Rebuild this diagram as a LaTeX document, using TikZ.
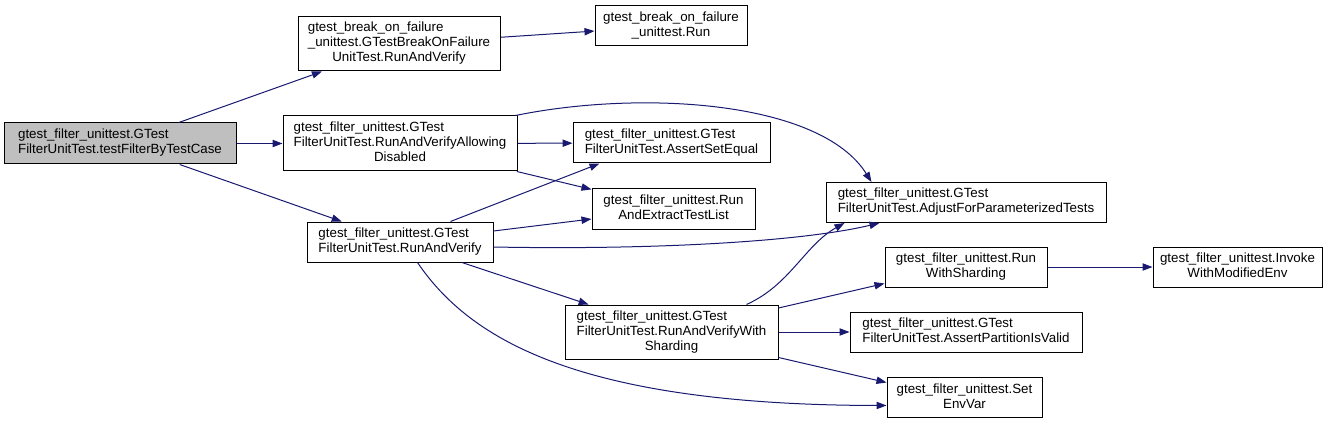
\documentclass[tikz,border=0pt]{standalone}
\usepackage{fontspec}
\setmainfont{Liberation Sans}
\usetikzlibrary{arrows.meta,calc}
\definecolor{edgeblue}{HTML}{191970}
\definecolor{rootgray}{HTML}{BFBFBF}
\newcommand\lbl[2]{\begin{tabular}{@{}l@{}}#1\\\multicolumn{1}{@{}c@{}}{#2}\end{tabular}}
\tikzset{
  nodebox/.style 2 args={draw=black,line width=0.75pt,inner sep=0pt,
    minimum width=#1*0.75pt,minimum height=#2*0.75pt},
  link/.style={draw=edgeblue,line width=0.75pt,-{Triangle[length=7.5pt,width=5.5pt]}}
}
\begin{document}
\begin{tikzpicture}[x=0.75pt,y=-0.75pt,font=\fontsize{10}{11.25}\selectfont]
\useasboundingbox (0,0) rectangle (1335,424);
\node[nodebox={232}{41},fill=rootgray] (A) at (120,143.5) {\lbl{gtest\_filter\_unittest.GTest}{FilterUnitTest.testFilterByTestCase}};
\node[nodebox={202}{54}] (B) at (399,44) {\lbl{gtest\_break\_on\_failure\\\_unittest.GTestBreakOnFailure}{UnitTest.RunAndVerify}};
\node[nodebox={152}{40}] (C) at (671,26) {\lbl{gtest\_break\_on\_failure}{\_unittest.Run}};
\node[nodebox={234}{55}] (D) at (400,143.5) {\lbl{gtest\_filter\_unittest.GTest\\FilterUnitTest.RunAndVerifyAllowing}{Disabled}};
\node[nodebox={186}{40}] (E) at (400,242) {\lbl{gtest\_filter\_unittest.GTest}{FilterUnitTest.RunAndVerify}};
\node[nodebox={197}{40}] (F) at (671.5,143) {\lbl{gtest\_filter\_unittest.GTest}{FilterUnitTest.AssertSetEqual}};
\node[nodebox={163}{40}] (G) at (673.5,209) {\lbl{gtest\_filter\_unittest.Run}{AndExtractTestList}};
\node[nodebox={280}{40}] (H) at (966,202.5) {\lbl{gtest\_filter\_unittest.GTest}{FilterUnitTest.AdjustForParameterizedTests}};
\node[nodebox={213}{54}] (I) at (671.5,332) {\lbl{gtest\_filter\_unittest.GTest\\FilterUnitTest.RunAndVerifyWith}{Sharding}};
\node[nodebox={232}{40}] (J) at (966,332) {\lbl{gtest\_filter\_unittest.GTest}{FilterUnitTest.AssertPartitionIsValid}};
\node[nodebox={155}{40}] (K) at (964.5,397.5) {\lbl{gtest\_filter\_unittest.Set}{EnvVar}};
\node[nodebox={162}{40}] (L) at (966,267) {\lbl{gtest\_filter\_unittest.Run}{WithSharding}};
\node[nodebox={169}{40}] (M) at (1237.5,267) {\lbl{gtest\_filter\_unittest.Invoke}{WithModifiedEnv}};
\draw[link] (A) -- (B);
\draw[link] (A) -- (D);
\draw[link] (A) -- (E);
\draw[link] (B) -- (C);
\draw[link] (D) -- (F);
\draw[link] (D) -- (G);
\draw[link] ($(D.north east)+(-2,0)$) .. controls (640,90) and (820,100) .. ($(H.north west)+(46,0)$);
\draw[link] ($(E.north east)+(-43,0)$) -- ($(F.south west)+(27,0)$);
\draw[link] ($(E.east)+(0,-11)$) -- ($(G.west)+(0,10)$);
\draw[link] ($(E.east)+(0,5)$) .. controls (650,250) and (800,242) .. ($(H.south west)+(54,0)$);
\draw[link] ($(I.north west)+(182,0)$) .. controls (790,285) and (805,245) .. ($(H.south west)+(19,0)$);
\draw[link] (E) -- (I);
\draw[link] ($(E.south west)+(111,0)$) .. controls (470,340) and (580,405) .. ($(K.west)+(0,8)$);
\draw[link] ($(I.east)+(0,-24)$) -- ($(L.south west)+(0,-4)$);
\draw[link] (I) -- (J);
\draw[link] ($(I.south east)+(0,-2)$) -- ($(K.west)+(0,-15)$);
\draw[link] (L) -- (M);
\end{tikzpicture}
\end{document}
